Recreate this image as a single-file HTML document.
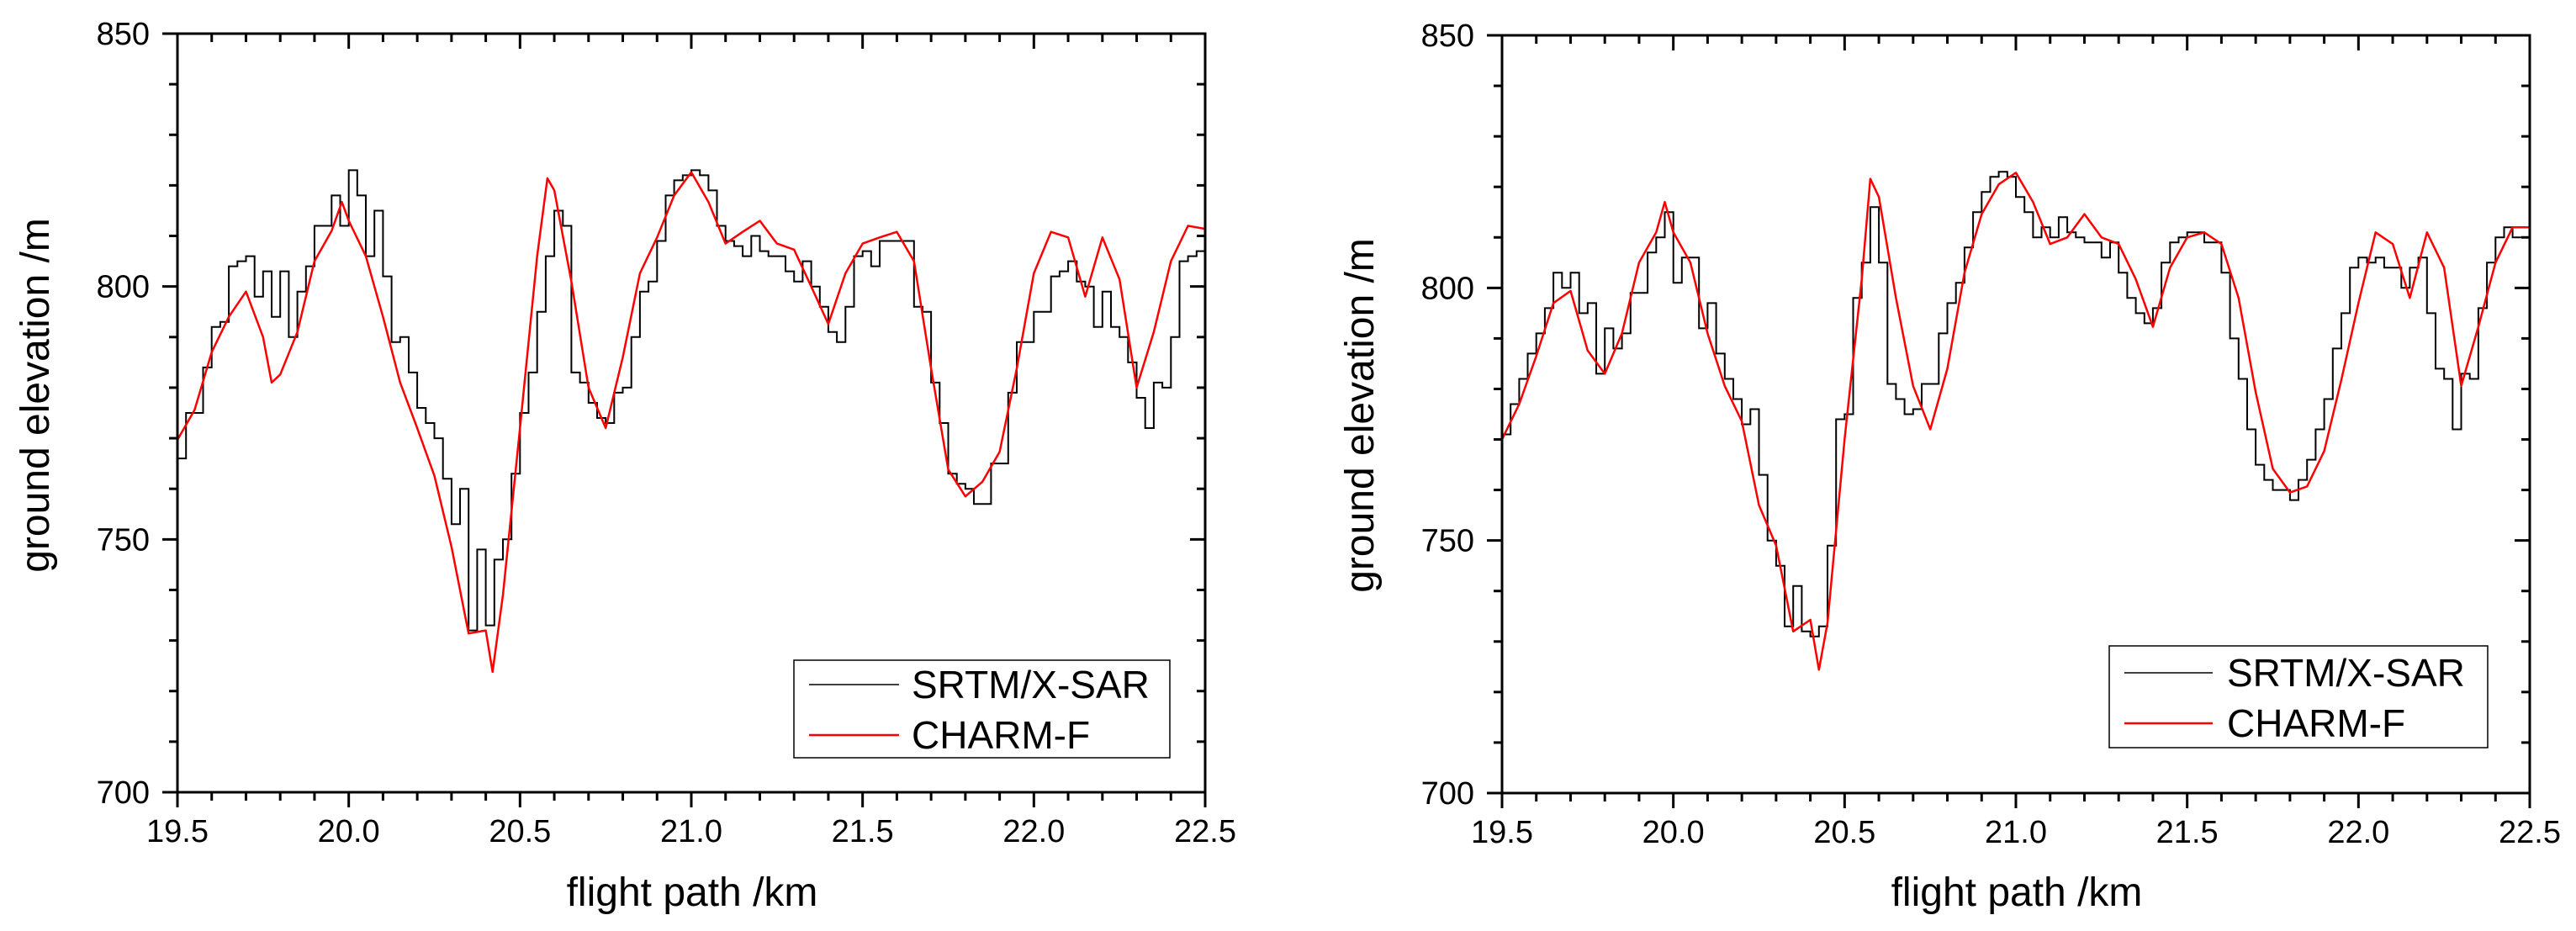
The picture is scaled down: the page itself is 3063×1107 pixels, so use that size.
<!DOCTYPE html>
<html><head><meta charset="utf-8"><style>
html,body{margin:0;padding:0;background:#fff}
svg{display:block;font-family:"Liberation Sans",Arial,sans-serif}
</style></head><body>
<svg id="fig" width="3063" height="1107" viewBox="0 0 3063 1107" xmlns="http://www.w3.org/2000/svg"></svg>
<script>
const xTicks=[19.5,20.0,20.5,21.0,21.5,22.0,22.5];
const xTickLabels=["19.5","20.0","20.5","21.0","21.5","22.0","22.5"];
const yTicks=[700,750,800,850];
const yTickLabels=["700","750","800","850"];
const redX=[19.5,19.55,19.6,19.65,19.7,19.75,19.775,19.8,19.85,19.9,19.95,19.98,20.0,20.05,20.1,20.15,20.2,20.25,20.3,20.35,20.4,20.42,20.45,20.5,20.55,20.58,20.6,20.65,20.7,20.75,20.8,20.85,20.9,20.95,21.0,21.05,21.1,21.15,21.2,21.25,21.3,21.35,21.4,21.45,21.5,21.55,21.6,21.65,21.7,21.75,21.8,21.85,21.9,21.95,22.0,22.05,22.1,22.15,22.2,22.25,22.3,22.35,22.4,22.45,22.5];
const leftRed=[769.7,775.6,787,794,799,790,781,782.6,791,805,811,816.7,813,806,794,781,772,762.6,748.5,731.4,732,723.8,739,772,806,821.4,819,801,780,772,786,802.6,809.7,818,822.6,816.7,808.5,810.8,813,808.5,807.3,800,792.6,802.6,808.5,809.7,810.8,805,783.8,763.8,758.5,761.4,767.3,783.8,802.6,810.8,809.7,798,809.7,801.4,780,791,805,812,811.4];
const redX2=[19.5,19.55,19.6,19.65,19.7,19.75,19.8,19.85,19.9,19.95,19.975,20.0,20.05,20.1,20.15,20.2,20.25,20.3,20.35,20.4,20.425,20.45,20.5,20.55,20.575,20.6,20.65,20.7,20.75,20.8,20.85,20.9,20.95,21.0,21.05,21.1,21.15,21.2,21.25,21.3,21.35,21.4,21.45,21.5,21.55,21.6,21.65,21.7,21.75,21.8,21.85,21.9,21.95,22.0,22.05,22.1,22.15,22.2,22.25,22.3,22.35,22.4,22.45,22.5];
const rightRed=[770,777,786.5,797,799.4,787.6,783,791,805,811,817,811,805,791,780.6,773.6,757,749,732,734.3,724.4,733.7,770,801.7,821.6,818,798,780.6,772,784,803,814.6,820.5,822.8,817,808.7,810,814.6,810,808.7,801.7,792.3,804,810,811,808.7,798,779.4,764.2,759.5,760.7,767.7,781.8,797,811,808.7,798,811,804,780.6,792.3,805,812,812];
const blackStart=19.5, blackStep=0.025;
const leftBlack=[766,775,775,784,792,793,804,805,806,798,803,794,803,790,799,804,812,812,818,812,823,818,806,815,802,789,790,783,776,773,770,762,753,760,732,748,733,746,750,763,775,783,795,806,815,812,783,781,777,774,773,779,780,790,799,801,809,818,821,822,823,822,819,812,809,808,806,810,807,806,806,803,801,805,800,796,791,789,796,806,807,804,809,809,809,809,796,795,781,773,763,761,760,757,757,765,765,779,789,789,795,795,802,803,805,801,800,792,799,792,790,785,778,772,781,780,790,805,806,807,800];
const rightBlack=[771,777,782,787,791,796,803,800,803,795,797,783,792,788,791,799,799,807,810,815,801,806,806,792,797,787,782,778,773,776,763,750,745,733,741,732,731,733,749,774,775,798,805,816,805,781,778,775,776,781,781,791,797,801,808,815,819,822,823,822,818,815,810,812,810,814,811,810,809,809,806,809,803,798,795,793,796,805,809,810,811,811,809,809,803,790,782,772,765,762,760,760,758,762,766,772,778,788,795,804,806,805,806,804,804,800,804,806,795,784,782,772,783,782,796,805,810,812,810,810,808];

const NS="http://www.w3.org/2000/svg";
const svg=document.getElementById('fig');
function mk(tag,attrs,parent){const e=document.createElementNS(NS,tag);for(const k in attrs)e.setAttribute(k,attrs[k]);(parent||svg).appendChild(e);return e;}

function plot(P,name,redXs,redYs,blackYs){
  const g=mk('g',{});
  
  
  const sx=v=>P.x0+(v-19.5)/3*(P.x1-P.x0);
  const sy=v=>P.y1-(v-700)/150*(P.y1-P.y0);
  const cp=mk('clipPath',{id:name+'-clip'},g);
  mk('rect',{x:P.x0,y:P.y0,width:P.x1-P.x0,height:P.y1-P.y0},cp);
  // black step series
  let d='';
  for(let i=0;i<blackYs.length;i++){
    const xa=sx(blackStart+i*blackStep), xb=sx(Math.min(22.5,blackStart+(i+1)*blackStep));
    const y=sy(blackYs[i]);
    d+=(i===0?'M':'L')+xa.toFixed(1)+','+y.toFixed(1)+'L'+xb.toFixed(1)+','+y.toFixed(1);
  }
  const bl=mk('path',{d:d,fill:'none',stroke:'#000','stroke-width':2,'clip-path':'url(#'+name+'-clip)'},g);
  
  
  let dr='';
  for(let i=0;i<redXs.length;i++) dr+=(i?'L':'M')+sx(redXs[i]).toFixed(1)+','+sy(redYs[i]).toFixed(1);
  const rl=mk('path',{d:dr,fill:'none',stroke:'#f00','stroke-width':2.5,'stroke-linejoin':'round','clip-path':'url(#'+name+'-clip)'},g);
  
  
  // frame
  const fr=mk('rect',{x:P.x0,y:P.y0,width:P.x1-P.x0,height:P.y1-P.y0,fill:'none',stroke:'#000','stroke-width':3},g);
  
  
  // x ticks
  for(let k=0;k<=30;k++){
    const v=19.5+k*0.1, x=sx(v), major=(k%5===0), L=major?18:10;
    mk('line',{x1:x,y1:P.y1,x2:x,y2:P.y1+L,stroke:'#000','stroke-width':3},g);
    mk('line',{x1:x,y1:P.y0,x2:x,y2:P.y0+L,stroke:'#000','stroke-width':3},g);
  }
  for(let k=0;k<=15;k++){
    const v=700+k*10, y=sy(v), major=(k%5===0), L=major?18:10;
    mk('line',{x1:P.x0,y1:y,x2:P.x0-L,y2:y,stroke:'#000','stroke-width':3},g);
    mk('line',{x1:P.x1,y1:y,x2:P.x1-L,y2:y,stroke:'#000','stroke-width':3},g);
  }
  xTicks.forEach((v,i)=>{
    const t=mk('text',{x:sx(v),y:P.y1+59,'text-anchor':'middle','font-size':38,fill:'#000'},g);
    t.textContent=xTickLabels[i];
    
    
  });
  yTicks.forEach((v,i)=>{
    const t=mk('text',{x:P.x0-33,y:sy(v)+13,'text-anchor':'end','font-size':38,fill:'#000'},g);
    t.textContent=yTickLabels[i];
    
    
  });
  const xt=mk('text',{x:P.xtx,y:1077,'text-anchor':'middle','font-size':48,fill:'#000'},g);
  xt.textContent='flight path /km';
  
  
  const yt=mk('text',{x:0,y:0,'text-anchor':'middle','font-size':48,fill:'#000',transform:'translate('+(P.ytx+17)+','+P.yty+') rotate(-90)'},g);
  yt.textContent='ground elevation /m';
  
  
  // legend
  const lg=mk('g',{},g);
  
  
  mk('rect',{x:P.lx0,y:P.ly0,width:P.lx1-P.lx0,height:P.ly1-P.ly0,fill:'#fff',stroke:'#000','stroke-width':1.5},lg);
  const rows=[['SRTM/X-SAR','#000',P.r1,'legend-entry-srtm'],['CHARM-F','#f00',P.r2,'legend-entry-charm-f']];
  rows.forEach(r=>{
    const e=mk('g',{},lg);
    
    
    mk('line',{x1:P.ls0,y1:r[2],x2:P.ls1,y2:r[2],stroke:r[1],'stroke-width':r[1]==='#000'?1.5:2.5},e);
    const t=mk('text',{x:P.lt,y:r[2]+16,'font-size':46,fill:'#000'},e);
    t.textContent=r[0];
  });
}
plot({x0:211,x1:1433,y0:40,y1:942,xtx:823,ytx:41,yty:470,lx0:944,lx1:1391,ly0:785,ly1:901,ls0:962,ls1:1069,lt:1084,r1:814,r2:874},'left-chart',redX,leftRed,leftBlack);
plot({x0:1786,x1:3008,y0:42,y1:943,xtx:2398,ytx:1616,yty:494,lx0:2508,lx1:2958,ly0:768,ly1:889,ls0:2526,ls1:2631,lt:2648,r1:800,r2:860},'right-chart',redX2,rightRed,rightBlack);
</script>
</body></html>
